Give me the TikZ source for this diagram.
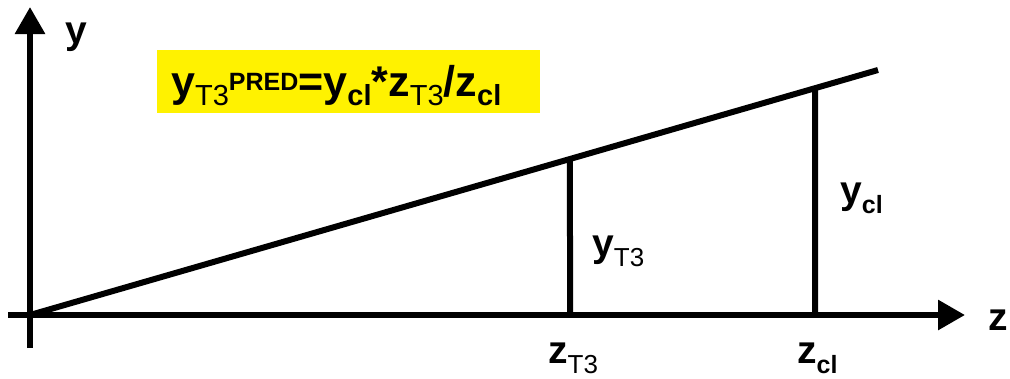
\documentclass[tikz,border=0pt]{standalone}
\usepackage{fontspec}
\setmainfont{Liberation Sans}
\usetikzlibrary{arrows.meta,calc}
\newcommand{\fsub}[1]{\raisebox{-9pt}{\fontsize{29}{29}\selectfont #1}}
\newcommand{\fsubm}[1]{\raisebox{-9pt}{\fontsize{29}{29}\selectfont\mdseries #1}}
\newcommand{\fsup}[1]{\raisebox{6pt}{\fontsize{25}{25}\selectfont #1}}
\newcommand{\lsub}[1]{\raisebox{-10pt}{\fontsize{25}{25}\selectfont #1}}
\newcommand{\lsubm}[1]{\raisebox{-10pt}{\fontsize{26}{26}\selectfont\mdseries #1}}
\begin{document}
\begin{tikzpicture}[x=1pt,y=-1pt,
  axis/.style={line width=6pt,-{Triangle[length=27pt,width=29pt]}},
  thick line/.style={line width=6pt},
  lbl/.style={anchor=base west,inner sep=0pt,font=\bfseries\fontsize{39}{39}\selectfont},
  formbox/.style={fill=yellow,draw=none,minimum width=383pt,minimum height=63pt,inner sep=0pt}]
\useasboundingbox (0,0) rectangle (1010,378);
\fill[white] (0,0) rectangle (1010,378);
% formula
\node[formbox] (box) at (348.5,81.5) {};
\node[anchor=base west,inner sep=0pt,font=\bfseries\fontsize{43}{43}\selectfont] (formula) at (171,96)
  {y\fsubm{T3}\fsup{PRED}=y\fsub{cl}*z\fsubm{T3}/z\fsub{cl}};
% axes
\coordinate (O) at (30,315);
\coordinate (ybot) at (30,348);
\coordinate (ytop) at (30,7);
\coordinate (xleft) at (8,315);
\coordinate (xright) at (965,315);
\draw[axis] (ybot) -- (ytop);
\draw[axis] (xleft) -- (xright);
% slanted line
\coordinate (E) at (878,70);
\draw[thick line] (O) -- (E);
% verticals
\coordinate (P1) at ($(O)!{540/848}!(E)$);
\coordinate (P2) at ($(O)!{785/848}!(E)$);
\coordinate (B1) at (570,315);
\coordinate (B2) at (815,315);
\draw[thick line] (P1) -- (B1);
\draw[thick line] (P2) -- (B2);
% labels
\node[lbl] (ylab) at (65,43) {y};
\node[lbl] (zlab) at (988,330) {z};
\node[lbl] (ycl) at (840,203) {y\lsub{cl}};
\node[lbl] (yT3) at (592,256) {y\lsubm{T3}};
\node[lbl] (zT3) at (548,363) {z\lsubm{T3}};
\node[lbl] (zcl) at (797,363) {z\lsub{cl}};
\end{tikzpicture}
\end{document}
